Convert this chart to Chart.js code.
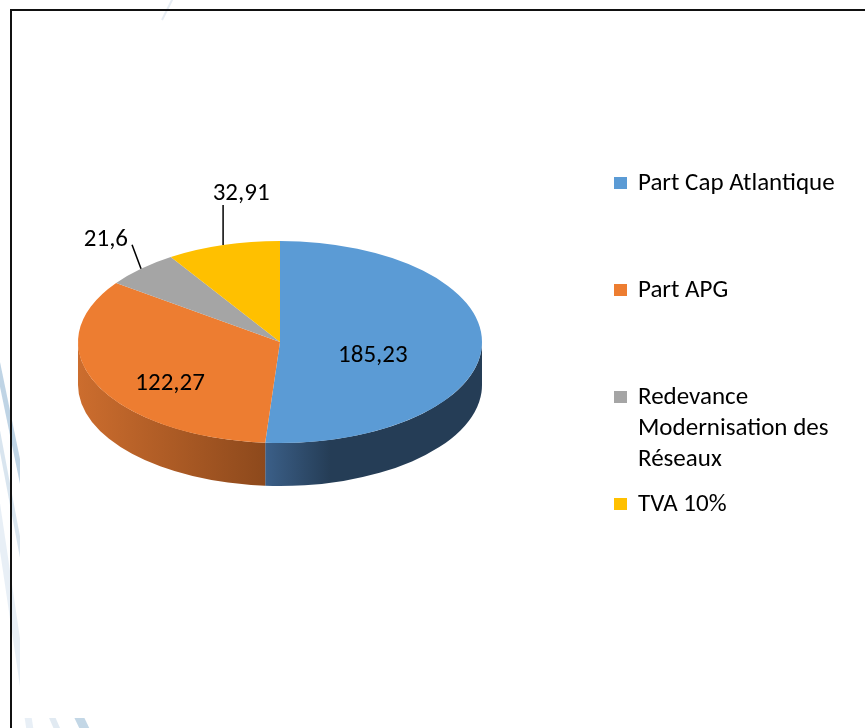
<!DOCTYPE html>
<html>
<head>
<meta charset="utf-8">
<script src="https://cdn.jsdelivr.net/npm/chart.js@4"></script>
<style>
  html, body { margin: 0; padding: 0; background: #fff; }
  body { width: 865px; height: 728px; position: relative; overflow: hidden; font-family: Carlito, Lato, sans-serif; }
  #pieChart { position: absolute; left: 0; top: 0; }
  #frame { position: absolute; left: 10px; top: 9px; width: 900px; height: 800px; border: 2px solid #111; pointer-events: none; }
  #legend { position: absolute; left: 614px; top: 166px; }
  .item { position: absolute; left: 0; width: 250px; display: flex; }
  .box { width: 13px; height: 12px; margin-top: 11px; flex: none; }
  .txt { margin-left: 11px; width: 220px; font-size: 25px; line-height: 31px; color: #000; }
</style>
</head>
<body>
<canvas id="pieChart" width="865" height="728"></canvas>
<div id="frame"></div>
<div id="legend"></div>
<script>
// data
const categories = ['Part Cap Atlantique', 'Part APG', 'Redevance Modernisation des Réseaux', 'TVA 10%'];
const values = [185.23, 122.27, 21.6, 32.91];

// styles
const topColors = ['#5b9bd5', '#ed7d31', '#a5a5a5', '#ffc000'];
const wallColors = [['#3b5f88', '#253d56'], ['#cc6d2e', '#8d491c'], ['#8a8a8a', '#5e5e5e'], ['#d9a300', '#a07800']];
const FLAT = 0.5;      // vertical squash of the pie
const DEPTH = 43;      // thickness of the side wall
const CENTER_Y = 342;  // screen y of pie centre
const labelFont = '25px Carlito, Lato, sans-serif';
const labelStyle = [
  { mode: 'in', f: 0.46, dy: 12 },
  { mode: 'in', f: 0.6, dy: 16 },
  { mode: 'out', lx: -9, ly: -24, align: 'right', tx: -4, ty: -5 },
  { mode: 'out', lx: 0, ly: -40, align: 'center', tx: 18, ty: -11 }
];

function fmt(v) {
  return String(v).replace('.', ',');
}

// faint slide background stripes behind the chart frame
const backdrop = {
  id: 'backdrop',
  beforeDraw(chart) {
    const ctx = chart.ctx;
    ctx.save();
    ctx.lineCap = 'butt';
    ctx.strokeStyle = 'rgba(205,218,232,0.5)';
    ctx.lineWidth = 2;
    ctx.beginPath(); ctx.moveTo(173, -2); ctx.lineTo(162, 20); ctx.stroke();
    ctx.beginPath();
    ctx.rect(0, 0, 20, 728);
    ctx.rect(20, 718, 120, 10);
    ctx.clip();
    const stripes = [
      [-4, 355, 30, 520, 5, 'rgba(170,198,220,0.75)'],
      [-4, 420, 30, 600, 4, 'rgba(170,198,220,0.45)'],
      [-4, 500, 30, 730, 7, 'rgba(205,220,234,0.45)'],
      [40, 690, 62, 740, 6, 'rgba(205,220,234,0.6)'],
      [66, 690, 90, 740, 9, 'rgba(170,198,220,0.7)']
    ];
    stripes.forEach(s => {
      ctx.strokeStyle = s[5];
      ctx.lineWidth = s[4];
      ctx.beginPath(); ctx.moveTo(s[0], s[1]); ctx.lineTo(s[2], s[3]); ctx.stroke();
    });
    ctx.restore();
  }
};

// draws the side wall, then squashes the library's arcs into an ellipse
const pie3d = {
  id: 'pie3d',
  beforeDatasetsDraw(chart) {
    const ctx = chart.ctx;
    const arcs = chart.getDatasetMeta(0).data;
    arcs.forEach((arc, i) => {
      const p = arc.getProps(['x', 'startAngle', 'endAngle', 'outerRadius'], true);
      const a0 = Math.max(p.startAngle, 0);
      const a1 = Math.min(p.endAngle, Math.PI);
      if (a1 <= a0) return;
      const r = p.outerRadius;
      const xa = p.x + r * Math.cos(a0), xb = p.x + r * Math.cos(a1);
      const xs = [xa, xb];
      if (a0 <= 0 && a1 >= 0) xs.push(p.x + r);
      if (a0 <= Math.PI && a1 >= Math.PI) xs.push(p.x - r);
      const g = ctx.createLinearGradient(Math.min(...xs), 0, Math.max(...xs), 0);
      g.addColorStop(0, wallColors[i][0]);
      g.addColorStop(i === 0 ? 0.3 : 1, wallColors[i][1]);
      g.addColorStop(1, wallColors[i][1]);
      ctx.save();
      ctx.fillStyle = g;
      ctx.beginPath();
      ctx.ellipse(p.x, CENTER_Y, r, r * FLAT, 0, a0, a1);
      ctx.ellipse(p.x, CENTER_Y + DEPTH, r, r * FLAT, 0, a1, a0, true);
      ctx.closePath();
      ctx.fill();
      ctx.restore();
    });
    const c = arcs[0].getProps(['x', 'y'], true);
    ctx.save();
    ctx.translate(c.x, CENTER_Y);
    ctx.scale(1, FLAT);
    ctx.translate(-c.x, -c.y);
  },
  afterDatasetsDraw(chart) {
    const ctx = chart.ctx;
    ctx.restore();
    const arcs = chart.getDatasetMeta(0).data;
    ctx.save();
    ctx.font = labelFont;
    ctx.fillStyle = '#000';
    ctx.strokeStyle = '#000';
    ctx.lineWidth = 1.5;
    ctx.textBaseline = 'middle';
    arcs.forEach((arc, i) => {
      const p = arc.getProps(['x', 'startAngle', 'endAngle', 'outerRadius'], true);
      const mid = (p.startAngle + p.endAngle) / 2;
      const r = p.outerRadius;
      const s = labelStyle[i];
      const text = fmt(values[i]);
      if (s.mode === 'in') {
        ctx.textAlign = 'center';
        ctx.fillText(text, p.x + s.f * r * Math.cos(mid), CENTER_Y + s.f * r * FLAT * Math.sin(mid) + s.dy);
      } else {
        const ex = p.x + r * Math.cos(mid);
        const ey = CENTER_Y + r * FLAT * Math.sin(mid);
        const ox = ex + s.lx, oy = ey + s.ly;
        ctx.beginPath(); ctx.moveTo(ex, ey); ctx.lineTo(ox, oy); ctx.stroke();
        ctx.textAlign = s.align;
        ctx.fillText(text, ox + s.tx, oy + s.ty);
      }
    });
    ctx.restore();
  }
};

new Chart(document.getElementById('pieChart').getContext('2d'), {
  type: 'pie',
  data: {
    labels: categories,
    datasets: [{
      data: values,
      backgroundColor: topColors,
      borderWidth: 0,
      clip: false
    }]
  },
  options: {
    responsive: false,
    animation: false,
    events: [],
    radius: 202,
    layout: { padding: { left: 0, right: 305, top: 0, bottom: 0 } },
    plugins: {
      legend: { display: false },
      tooltip: { enabled: false }
    }
  },
  plugins: [backdrop, pie3d]
});

// legend, one evenly spaced slot per category
const legend = document.getElementById('legend');
categories.forEach((name, i) => {
  const item = document.createElement('div');
  item.className = 'item';
  item.style.top = (i * 107) + 'px';
  const box = document.createElement('div');
  box.className = 'box';
  box.style.background = topColors[i];
  const txt = document.createElement('div');
  txt.className = 'txt';
  txt.textContent = name;
  item.appendChild(box);
  item.appendChild(txt);
  legend.appendChild(item);
});
</script>
</body>
</html>
